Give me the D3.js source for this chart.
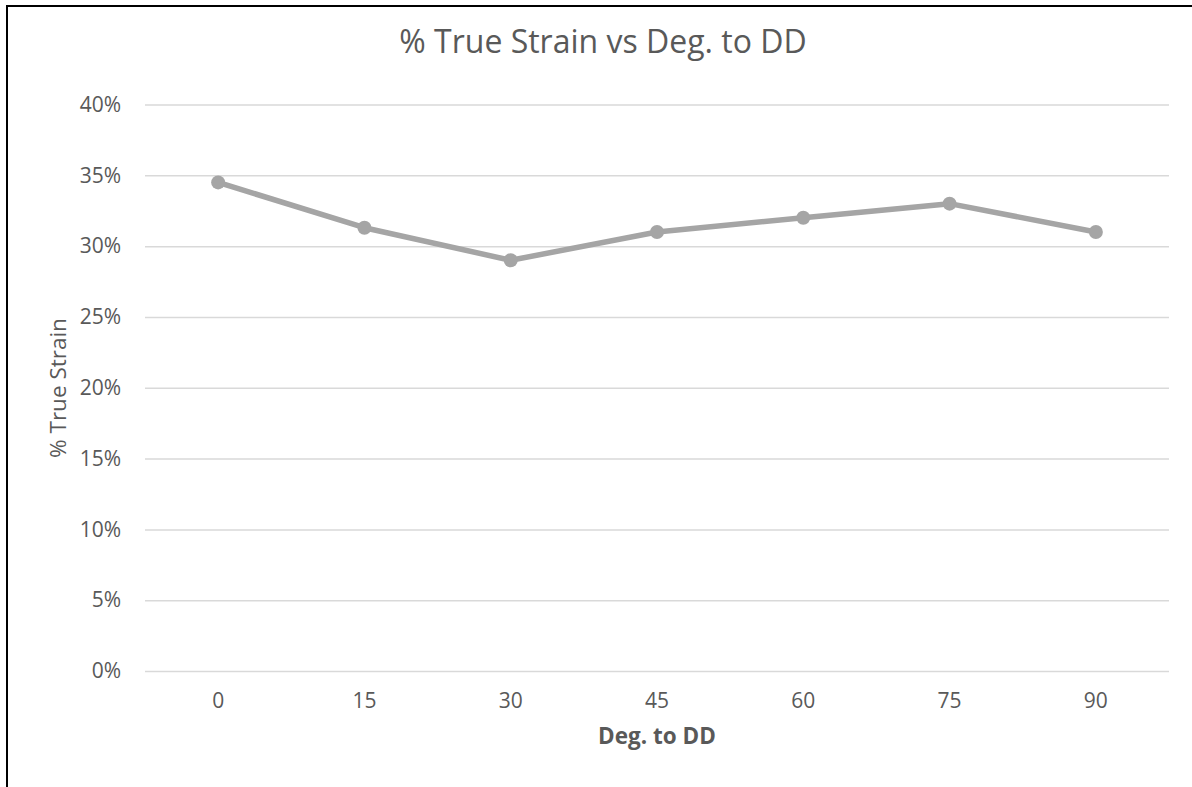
<!DOCTYPE html>
<html>
<head>
<meta charset="utf-8">
<script src="https://cdn.jsdelivr.net/npm/d3@7"></script>
<style>
  body { margin: 0; background: #fff; }
  svg { display: block; font-family: "Open Sans", sans-serif; }
</style>
</head>
<body>
<div id="chart"></div>
<script>
// données
const angles = ["0", "15", "30", "45", "60", "75", "90"];
const strain = [0.345, 0.313, 0.29, 0.31, 0.32, 0.33, 0.31];
const yTicks = [0, 0.05, 0.10, 0.15, 0.20, 0.25, 0.30, 0.35, 0.40];

const width = 1192, height = 787;
const margin = { top: 104.5, right: 23, bottom: 116, left: 145 };

const svg = d3.select("#chart")
	.append("svg")
	.attr("width", width)
	.attr("height", height);

// cadre (gauche + haut seulement, le reste est coupé)
svg.append("path")
	.attr("d", `M7,${height} L7,6 L${width},6`)
	.style("fill", "none")
	.style("stroke", "#000")
	.style("stroke-width", 2);

const x = d3.scaleBand()
	.domain(angles)
	.range([margin.left, width - margin.right]);

const y = d3.scaleLinear()
	.domain([0, 0.4])
	.range([height - margin.bottom, margin.top]);

// grille horizontale + étiquettes Y
const yAxis = d3.axisLeft(y)
	.tickValues(yTicks)
	.tickFormat(d3.format(".0%"))
	.tickSize(-(width - margin.left - margin.right))
	.tickPadding(24);

svg.append("g")
	.attr("transform", `translate(${margin.left},0)`)
	.call(yAxis)
	.call(g => g.select(".domain").remove())
	.call(g => g.selectAll(".tick line").style("stroke", "#D9D9D9").style("stroke-width", 1.5))
	.call(g => g.selectAll(".tick text").style("fill", "#595959").style("font-size", "21px").style("font-family", "Open Sans"));

// étiquettes X
const xAxis = d3.axisBottom(x).tickSize(0).tickPadding(22);

svg.append("g")
	.attr("transform", `translate(0,${height - margin.bottom})`)
	.call(xAxis)
	.call(g => g.select(".domain").remove())
	.call(g => g.selectAll(".tick text").style("fill", "#595959").style("font-size", "21px").style("font-family", "Open Sans"));

// la courbe
const line = d3.line()
	.x((d, i) => x(angles[i]) + x.bandwidth() / 2)
	.y(d => y(d));

svg.append("path")
	.datum(strain)
	.attr("d", line)
	.style("fill", "none")
	.style("stroke", "#A5A5A5")
	.style("stroke-width", 5.5)
	.style("stroke-linejoin", "round");

svg.selectAll("circle.pt")
	.data(strain)
	.enter()
	.append("circle")
	.attr("class", "pt")
	.attr("cx", (d, i) => x(angles[i]) + x.bandwidth() / 2)
	.attr("cy", d => y(d))
	.attr("r", 7)
	.style("fill", "#A5A5A5");

// titres
svg.append("text")
	.attr("x", 603)
	.attr("y", 53)
	.attr("text-anchor", "middle")
	.style("font-size", "32px")
	.style("fill", "#595959")
	.text("% True Strain vs Deg. to DD");

svg.append("text")
	.attr("x", 657)
	.attr("y", 744)
	.attr("text-anchor", "middle")
	.style("font-size", "22.5px")
	.style("font-weight", "bold")
	.style("fill", "#595959")
	.text("Deg. to DD");

svg.append("text")
	.attr("transform", "translate(66,388) rotate(-90)")
	.attr("text-anchor", "middle")
	.style("font-size", "22.5px")
	.style("fill", "#595959")
	.text("% True Strain");
</script>
</body>
</html>
